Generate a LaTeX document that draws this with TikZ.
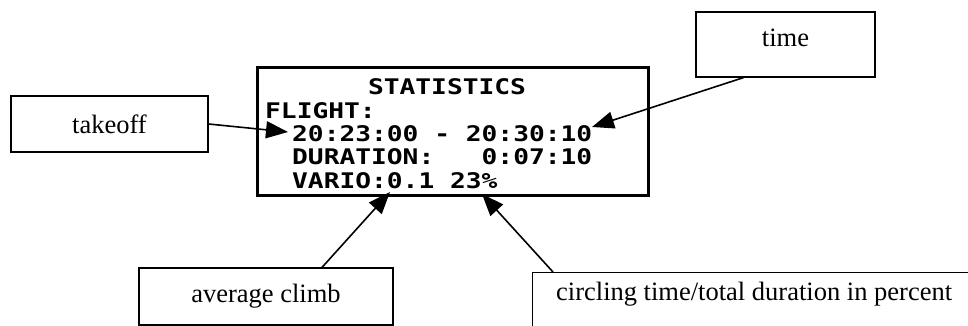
\documentclass[tikz,border=0pt]{standalone}
\usepackage{fontspec}
\setmainfont{Liberation Serif}
\newfontfamily\lcdfont{DejaVu Sans Mono}[FakeStretch=1.22]
\usetikzlibrary{arrows.meta}

\tikzset{
  callout/.style={draw, line width=1.2pt, inner sep=0pt, font=\fontsize{26.5}{30}\selectfont},
  lcdline/.style={anchor=base west, inner sep=0pt, font=\lcdfont\bfseries\fontsize{21.5}{24}\selectfont},
  pointer/.style={line width=1.6pt, -{Triangle[length=22pt,width=17pt]}}
}

\begin{document}
\begin{tikzpicture}[x=1pt, y=-1pt]
  \useasboundingbox (0,0) rectangle (968,326);
  \clip (0,0) rectangle (968,326);

  % the display with its statistics page
  \node[draw, line width=3pt, minimum width=391pt, minimum height=127pt] (screen) at (452.5,131.5) {};
  \node[lcdline, anchor=base] (heading) at (447,94.7) {STATISTICS};
  \node[lcdline] (flight) at (265,118) {FLIGHT:};
  \node[lcdline] (period) at (292,141.3) {20:23:00 - 20:30:10};
  \node[lcdline] (duration) at (292,164.7) {DURATION:\phantom{000}0:07:10};
  \node[lcdline] (vario) at (292,188) {VARIO:0.1 23\%};

  % callout boxes
  \node[callout, minimum width=197pt, minimum height=56pt] (takeoff) at (109.5,124) {takeoff};
  \node[callout, minimum width=179pt, minimum height=65pt, text depth=14pt] (time) at (785.5,44.5) {time};
  \node[callout, minimum width=254pt, minimum height=57pt] (climb) at (266,296.5) {average climb};
  \node[callout, anchor=north west, minimum width=443pt, text height=18pt, text depth=50pt, inner ysep=10pt] (circling) at (532,272) {circling time/total duration in percent};

  % where the arrows point to
  \coordinate (takeofftip) at (288,132);
  \coordinate (timetip) at (592,127);
  \coordinate (climbtip) at (390,192);
  \coordinate (circletip) at (482,194);

  \draw[pointer] (takeoff.east) -- (takeofftip);
  \draw[pointer] ([xshift=-42pt]time.south) -- (timetip);
  \draw[pointer] ([xshift=56pt]climb.north) -- (climbtip);
  \draw[pointer] ([xshift=21pt]circling.north west) -- (circletip);
\end{tikzpicture}
\end{document}
